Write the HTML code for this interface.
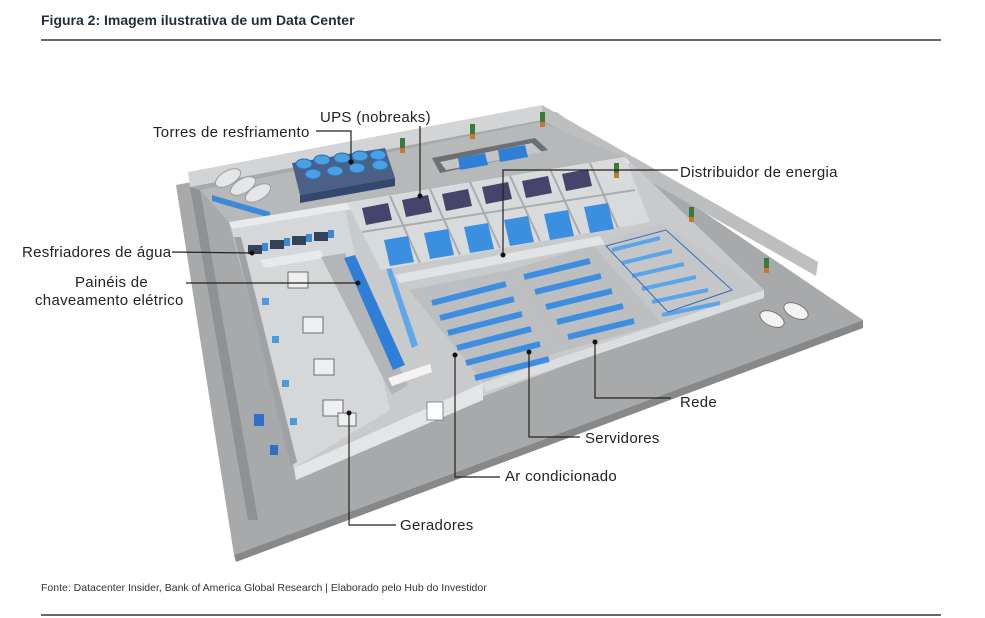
<!DOCTYPE html>
<html><head><meta charset="utf-8"><style>
body{margin:0;background:#fff;}
svg{display:block}
text{font-family:"Liberation Sans",sans-serif;}
</style></head><body>
<svg width="985" height="618" viewBox="0 0 985 618" xmlns="http://www.w3.org/2000/svg">
<text x="41" y="25" font-size="14" font-weight="bold" fill="#1f2d3a">Figura 2: Imagem ilustrativa de um Data Center</text>
<rect x="41" y="39" width="900" height="2" fill="#5f6a75"/>

<!-- slab -->
<polygon points="176,185 556,112 863,320 234,555" fill="#a7a9ab"/>
<polygon points="234,555 863,320 863,328 236,562" fill="#86888a"/>
<!-- outer walls -->
<polygon points="188,172 542,105 542,120 190,187" fill="#d3d4d5"/>
<polygon points="542,105 818,262 816,276 542,120" fill="#bdbec0"/>
<polygon points="190,187 200,190 258,520 248,520" fill="#8f9193"/>
<!-- yard floor behind building -->
<polygon points="200,190 540,122 625,157 229,222" fill="#b6b8ba"/>
<!-- small top-right building -->
<polygon points="432,158 535,138 548,150 440,173" fill="#6d6f72"/>
<polygon points="440,162 532,143 542,152 446,170" fill="#c4c5c7"/>
<polygon points="458,158 485,153 488,165 460,170" fill="#2f7fd8"/>
<polygon points="498,150 525,145 528,157 500,162" fill="#2f7fd8"/>
<!-- tanks -->
<g fill="#e4e6e8" stroke="#9a9c9e" stroke-width="1">
<ellipse cx="228" cy="178" rx="14" ry="7" transform="rotate(-30 228 178)"/>
<ellipse cx="243" cy="186" rx="14" ry="7" transform="rotate(-30 243 186)"/>
<ellipse cx="258" cy="193" rx="14" ry="7" transform="rotate(-30 258 193)"/>
</g>
<polygon points="212,195 270,212 270,218 212,201" fill="#3b8ad8"/>
<!-- cooling towers -->
<polygon points="292,163 385,148 395,178 300,195" fill="#4c5f85"/>
<polygon points="300,195 395,178 395,186 300,203" fill="#34476c"/>
<g fill="#4aa0e0" stroke="#2a6fb0" stroke-width="1">
<ellipse cx="304" cy="164" rx="8" ry="5"/><ellipse cx="322" cy="160" rx="8" ry="5"/><ellipse cx="342" cy="158" rx="8" ry="5"/>
<ellipse cx="360" cy="156" rx="8" ry="5"/><ellipse cx="378" cy="155" rx="8" ry="5"/>
<ellipse cx="313" cy="174" rx="8" ry="5"/><ellipse cx="335" cy="171" rx="8" ry="5"/><ellipse cx="357" cy="168" rx="8" ry="5"/><ellipse cx="380" cy="165" rx="8" ry="5"/>
</g>

<!-- building floor -->
<polygon points="229,222 625,157 764,290 294,468" fill="#c9cacc"/>
<polygon points="229,222 625,157 630,163 232,229" fill="#e9eaeb"/>
<!-- left generator strip -->
<polygon points="232,229 345,210 390,410 294,468" fill="#d6d7d8"/>
<polygon points="234,237 241,237 297,462 291,466" fill="#9fa1a3"/>
<polygon points="260,260 320,250 325,258 265,268" fill="#e8e9ea"/>
<!-- chillers -->
<g fill="#34425c">
<rect x="248" y="245" width="14" height="9"/><rect x="270" y="240" width="14" height="9"/><rect x="292" y="236" width="14" height="9"/><rect x="314" y="232" width="14" height="9"/>
</g>
<g fill="#3b8ad8">
<rect x="262" y="243" width="6" height="8"/><rect x="284" y="238" width="6" height="8"/><rect x="306" y="234" width="6" height="8"/><rect x="328" y="230" width="6" height="8"/>
</g>
<!-- generator boxes -->
<g fill="#eeeff0" stroke="#6a6c6e" stroke-width="1">
<rect x="288" y="272" width="20" height="16"/><rect x="303" y="317" width="20" height="16"/><rect x="314" y="359" width="20" height="16"/><rect x="323" y="400" width="20" height="16"/><rect x="338" y="413" width="18" height="13"/>
</g>
<g fill="#4a9ae0">
<rect x="262" y="298" width="7" height="7"/><rect x="272" y="336" width="7" height="7"/><rect x="282" y="380" width="7" height="7"/><rect x="290" y="418" width="7" height="7"/>
<rect x="254" y="414" width="10" height="12" fill="#2f6fc8"/><rect x="270" y="445" width="8" height="10" fill="#2f6fc8"/>
</g>
<!-- electrical room walls -->
<polygon points="321,257 345,253 408,385 392,395" fill="#b3b5b7"/>
<polygon points="344,258 355,255 405,365 393,370" fill="#2f7fd8"/>
<polygon points="385,265 390,264 418,345 412,348" fill="#5ea7e8"/>
<polygon points="388,378 430,364 432,372 392,386" fill="#f4f4f4"/>
<!-- front white wall -->
<polygon points="294,468 483,383 483,400 296,480" fill="#e4e5e6"/>
<rect x="427" y="402" width="16" height="18" fill="#ffffff" stroke="#7d8c9c"/>
<polygon points="483,383 764,290 764,298 485,392" fill="#dcdddf"/>

<!-- UPS/distribution rooms -->
<polygon points="347,203 625,157 650,222 381,270" fill="#d9dadb"/>
<g stroke="#a9abad" stroke-width="2">
<line x1="390" y1="196" x2="420" y2="263"/><line x1="430" y1="189" x2="460" y2="255"/><line x1="470" y1="182" x2="500" y2="248"/><line x1="510" y1="176" x2="540" y2="241"/><line x1="550" y1="169" x2="580" y2="234"/><line x1="590" y1="163" x2="618" y2="228"/>
<line x1="362" y1="232" x2="635" y2="190"/>
</g>
<g fill="#45446a">
<polygon points="362,208 388,203 392,220 366,225"/><polygon points="402,200 428,195 432,212 406,217"/><polygon points="442,194 468,189 472,206 446,211"/><polygon points="482,187 508,182 512,199 486,204"/><polygon points="522,181 548,176 552,193 526,198"/><polygon points="562,174 588,169 592,186 566,191"/>
</g>
<g fill="#3b8fe0">
<polygon points="384,240 408,236 414,262 390,266"/><polygon points="424,233 448,229 454,255 430,259"/><polygon points="464,227 488,223 494,249 470,253"/><polygon points="504,220 528,216 534,242 510,246"/><polygon points="544,214 568,210 574,236 550,240"/><polygon points="584,207 608,203 614,229 590,233"/>
</g>

<!-- server halls -->
<polygon points="409,290 510,270 556,353 483,382" fill="#bcbec0"/>
<polygon points="510,270 593,245 662,323 556,353" fill="#bcbec0"/>
<polygon points="593,245 662,223 764,290 662,323" fill="#c4c6c8"/>
<polygon points="395,275 600,236 605,244 400,283" fill="#e2e3e4"/>
<g stroke="#3d8ee0" stroke-width="6">
<line x1="432" y1="303" x2="506" y2="284"/><line x1="440" y1="318" x2="514" y2="299"/><line x1="448" y1="333" x2="522" y2="314"/><line x1="457" y1="348" x2="531" y2="329"/><line x1="466" y1="363" x2="540" y2="344"/><line x1="475" y1="378" x2="549" y2="359"/>
<line x1="524" y1="277" x2="590" y2="261"/><line x1="535" y1="292" x2="601" y2="276"/><line x1="546" y1="307" x2="612" y2="291"/><line x1="557" y1="322" x2="623" y2="306"/><line x1="568" y1="337" x2="634" y2="321"/>
</g>
<g stroke="#5aa4ea" stroke-width="4">
<line x1="612" y1="250" x2="660" y2="238"/><line x1="622" y1="263" x2="672" y2="251"/><line x1="632" y1="276" x2="684" y2="264"/><line x1="642" y1="289" x2="696" y2="277"/><line x1="652" y1="302" x2="708" y2="290"/><line x1="662" y1="315" x2="720" y2="303"/>
</g>
<g stroke="#2f6fb8" stroke-width="1" fill="none">
<polygon points="606,246 666,230 732,290 668,312"/>
</g>
<!-- plants -->
<g fill="#3a7a3a"><rect x="400" y="138" width="5" height="10"/><rect x="470" y="124" width="5" height="10"/><rect x="540" y="112" width="5" height="10"/><rect x="614" y="163" width="5" height="10"/><rect x="689" y="207" width="5" height="10"/><rect x="764" y="258" width="5" height="10"/></g>
<g fill="#c8782a"><rect x="400" y="148" width="5" height="5"/><rect x="470" y="134" width="5" height="5"/><rect x="540" y="122" width="5" height="5"/><rect x="614" y="173" width="5" height="5"/><rect x="689" y="217" width="5" height="5"/><rect x="764" y="268" width="5" height="5"/></g>
<!-- cars -->
<ellipse cx="772" cy="319" rx="13" ry="7" fill="#f2f2f2" stroke="#777" transform="rotate(25 772 319)"/>
<ellipse cx="796" cy="311" rx="13" ry="7" fill="#f2f2f2" stroke="#777" transform="rotate(25 796 311)"/>

<!-- leader lines -->
<g stroke="#222" stroke-width="1.2" fill="none">
<polyline points="316,131 351,131 351,162"/>
<polyline points="420,126 420,196"/>
<polyline points="678,170 503,170 503,255"/>
<polyline points="172,252 252,253"/>
<polyline points="186,283 358,283"/>
<polyline points="671,398 595,398 595,342"/>
<polyline points="580,437 529,437 529,352"/>
<polyline points="500,477 455,477 455,355"/>
<polyline points="396,525 349,525 349,413"/>
</g>
<g fill="#111">
<circle cx="351" cy="162" r="2.5"/><circle cx="420" cy="196" r="2.5"/><circle cx="503" cy="255" r="2.5"/><circle cx="252" cy="253" r="2.5"/><circle cx="358" cy="283" r="2.5"/><circle cx="595" cy="342" r="2.5"/><circle cx="529" cy="352" r="2.5"/><circle cx="455" cy="355" r="2.5"/><circle cx="349" cy="413" r="2.5"/>
</g>
<g font-size="15" fill="#222" letter-spacing="0.3">
<text x="153" y="137">Torres de resfriamento</text>
<text x="320" y="122">UPS (nobreaks)</text>
<text x="680" y="177">Distribuidor de energia</text>
<text x="22" y="257">Resfriadores de água</text>
<text x="75" y="287">Painéis de</text>
<text x="35" y="305">chaveamento elétrico</text>
<text x="680" y="407">Rede</text>
<text x="585" y="443">Servidores</text>
<text x="505" y="481">Ar condicionado</text>
<text x="400" y="530">Geradores</text>
</g>
<text x="41" y="591" font-size="10.5" fill="#333">Fonte: Datacenter Insider, Bank of America Global Research | Elaborado pelo Hub do Investidor</text>
<rect x="41" y="614" width="900" height="2" fill="#5f6a75"/>
</svg>
</body></html>
